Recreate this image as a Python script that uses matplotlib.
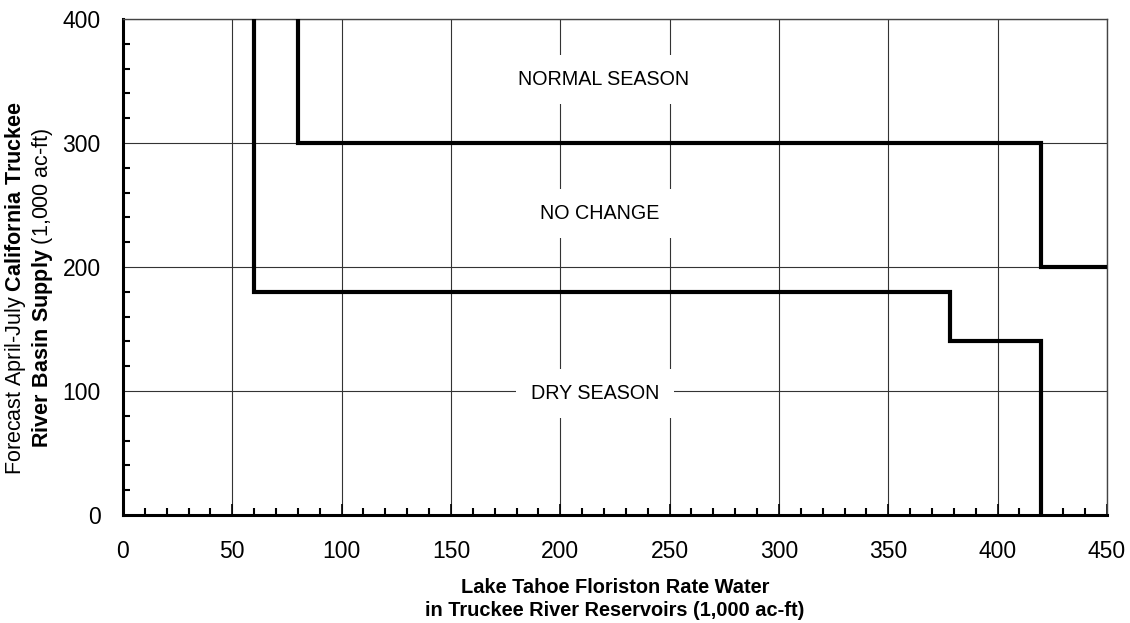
import matplotlib
matplotlib.use("Agg")
import matplotlib.pyplot as plt
from matplotlib.ticker import MultipleLocator

plt.rcParams["font.family"] = ["Liberation Sans", "DejaVu Sans"]
plt.rcParams["mathtext.fontset"] = "custom"
plt.rcParams["mathtext.rm"] = "Liberation Sans"
plt.rcParams["mathtext.bf"] = "Liberation Sans:bold"

# boundary between NORMAL SEASON and NO CHANGE
upper_x = [80, 80, 420, 420, 450]
upper_y = [400, 300, 300, 200, 200]
# boundary between NO CHANGE and DRY SEASON
lower_x = [60, 60, 378, 378, 420, 420]
lower_y = [400, 180, 180, 140, 140, 0]

zone_labels = ["NORMAL SEASON", "NO CHANGE", "DRY SEASON"]
zone_x = [220, 218, 216]
zone_y = [351, 243, 98]

fig = plt.figure(figsize=(11.3, 6.23), dpi=100)
ax = fig.add_axes([0.1088, 0.1734, 0.8708, 0.7961])

ax.plot(upper_x, upper_y, color="black", lw=3, solid_joinstyle="miter", zorder=4)
ax.plot(lower_x, lower_y, color="black", lw=3, solid_joinstyle="miter", zorder=4)

for lab, x, y in zip(zone_labels, zone_x, zone_y):
    ax.text(x, y, lab, ha="center", va="center", fontsize=14.2, zorder=3,
            bbox=dict(boxstyle="square,pad=0.75", facecolor="white", edgecolor="none"))

ax.set_xlim(0, 450)
ax.set_ylim(0, 400)
ax.xaxis.set_major_locator(MultipleLocator(50))
ax.xaxis.set_minor_locator(MultipleLocator(10))
ax.yaxis.set_major_locator(MultipleLocator(100))
ax.yaxis.set_minor_locator(MultipleLocator(20))
ax.grid(True, which="major", color="#333333", lw=0.8, zorder=1)
ax.set_axisbelow(True)

ax.tick_params(which="both", direction="in", labelsize=16.5, top=False, right=False)
ax.tick_params(axis="x", which="major", length=8, width=1.2, pad=18)
ax.tick_params(axis="y", which="major", length=0, pad=16)
ax.tick_params(which="minor", length=5, width=1.5)

for s in ["left", "bottom"]:
    ax.spines[s].set_linewidth(2.2)
for s in ["top", "right"]:
    ax.spines[s].set_linewidth(1.0)
    ax.spines[s].set_color("#444444")

fig.text(0.5442, 1 - 599 / 623,
         "Lake Tahoe Floriston Rate Water\nin Truckee River Reservoirs (1,000 ac-ft)",
         ha="center", va="center", fontsize=14.4, fontweight="bold", linespacing=1.3)

fig.text(29 / 1130, 1 - 288 / 623,
         "Forecast April-July $\\bf{California\\ Truckee}$\n"
         "$\\bf{River\\ Basin\\ Supply}$ (1,000 ac-ft)",
         rotation=90, ha="center", va="center", multialignment="center",
         fontsize=15.5, linespacing=1.15)

fig.savefig("out.png", dpi=100)
